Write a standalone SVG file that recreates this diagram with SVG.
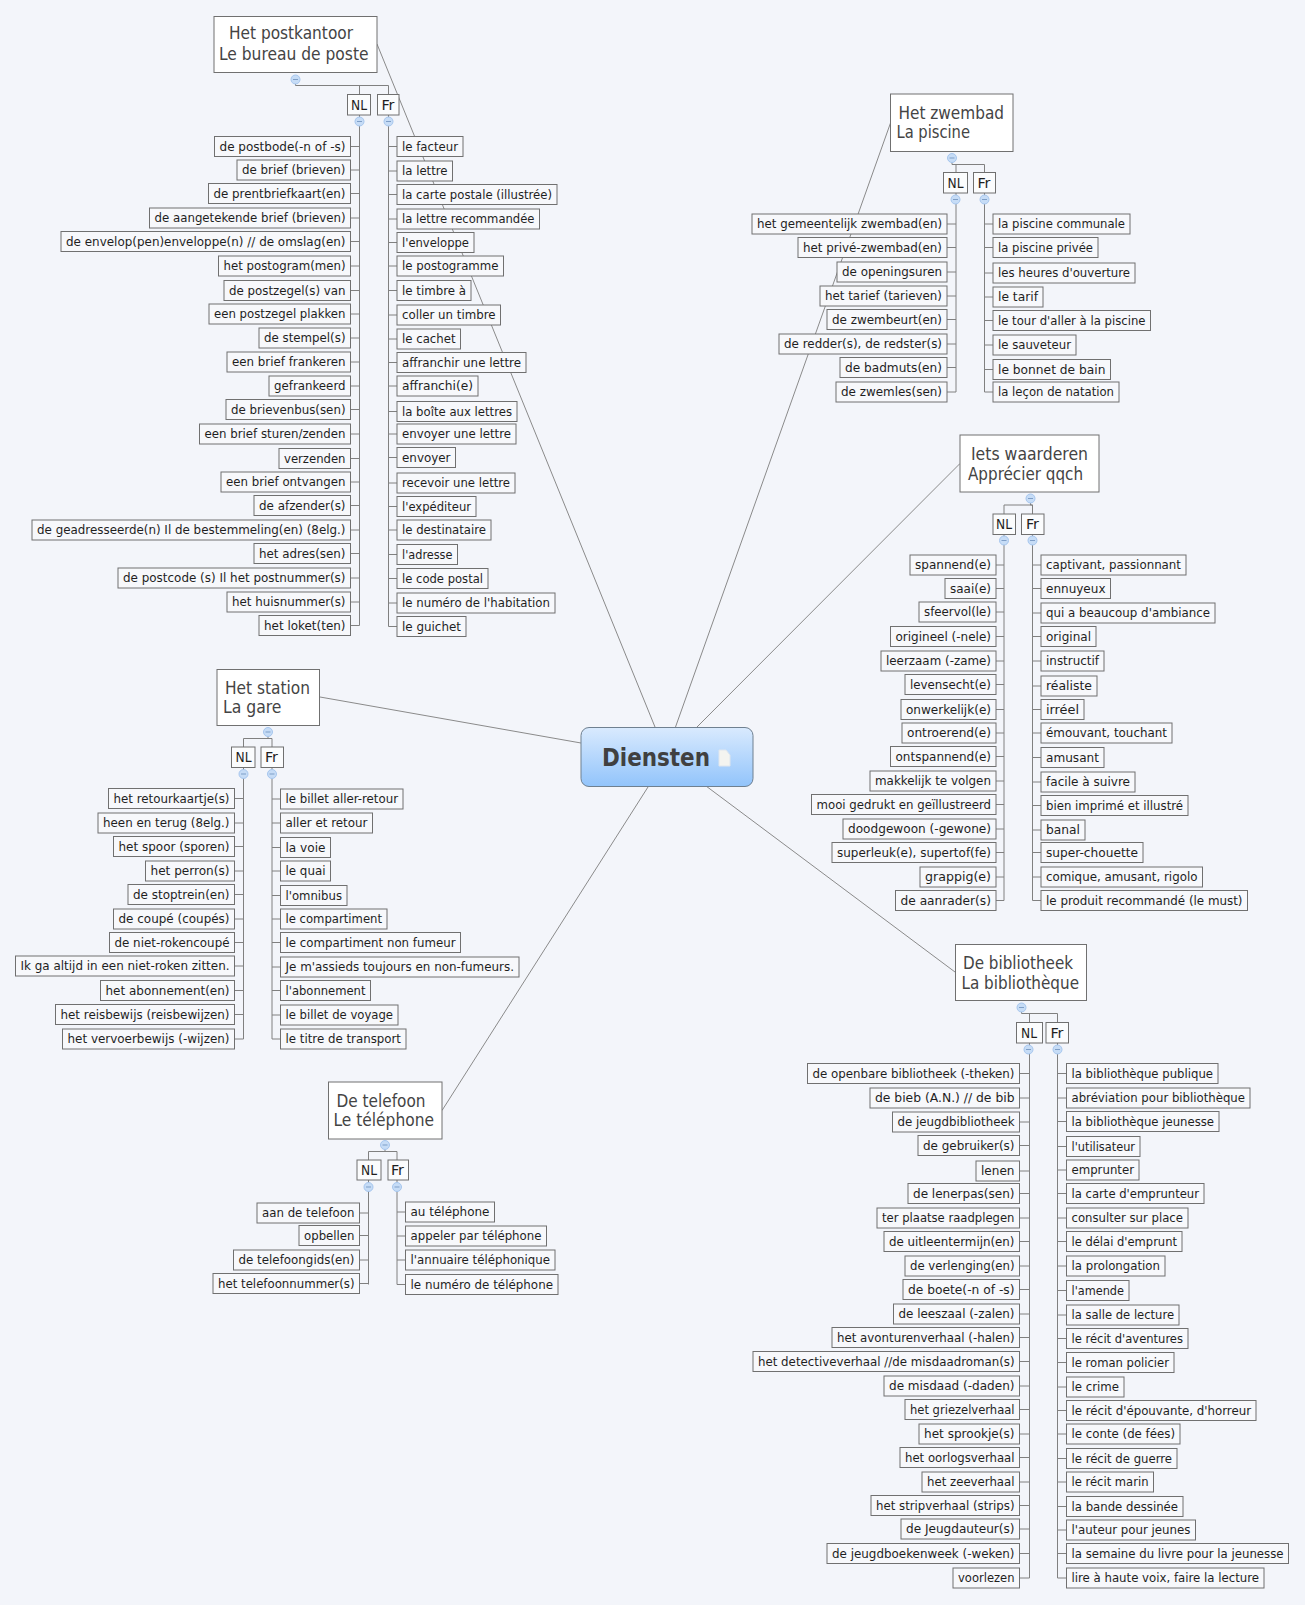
<svg xmlns="http://www.w3.org/2000/svg" width="1305" height="1605" viewBox="0 0 1305 1605">
<style>
text{font-family:"DejaVu Sans Condensed","DejaVu Sans","Liberation Sans",sans-serif;fill:#1f1f1f;font-size:13px}
.n rect{fill:#f7f8fb;stroke:#707070;stroke-width:1}
.h rect{fill:#fff;stroke:#707070;stroke-width:1}
.h text{font-size:18px;fill:#444}
.t rect{fill:#fbfcfd;stroke:#707070;stroke-width:1}
.t text{font-size:14px}
#connectors path{fill:none;stroke:#808080;stroke-width:1}
#connectors .m{stroke:#8a8a8a}
.c{fill:#c6dcf6;stroke:#a6c6ee;stroke-width:1}
.d{stroke:#7f9fc8;stroke-width:1}
</style>
<defs>
<linearGradient id="g" x1="0" y1="0" x2="0" y2="1"><stop offset="0" stop-color="#d9eafe"/><stop offset="1" stop-color="#92c4fb"/></linearGradient>
<g id="o"><circle class="c" r="4.5"/><path class="d" d="M-2.5 0H2.5"/></g>
</defs>
<rect width="1305" height="1605" fill="#f3f5fa"/>
<g id="connectors">
<path class="m" d="M377 44L655 727M890.5 123L675.5 727M960 463.5L697 727M955 972L706 786M442 1110.5L648 787M320 697L581 743"/>
<path d="M295.5 79V85.5H388.5M359.5 85.5V95M388.5 85.5V95M359.5 115V625.5M388.5 115V626.5"/>
<path d="M350.5 146.5H359.5M350.5 170H359.5M350.5 193.5H359.5M350.5 218H359.5M350.5 241.5H359.5M350.5 266H359.5M350.5 290.5H359.5M350.5 314H359.5M350.5 338H359.5M350.5 362H359.5M350.5 386H359.5M350.5 409.5H359.5M350.5 434H359.5M350.5 458.5H359.5M350.5 482H359.5M350.5 505.5H359.5M350.5 530H359.5M350.5 553.5H359.5M350.5 578H359.5M350.5 602H359.5M350.5 625.5H359.5"/>
<path d="M388.5 146.5H397M388.5 171H397M388.5 194.5H397M388.5 219H397M388.5 242.5H397M388.5 266H397M388.5 290.5H397M388.5 315H397M388.5 339H397M388.5 362.5H397M388.5 386H397M388.5 411.5H397M388.5 434H397M388.5 457.5H397M388.5 483H397M388.5 506.5H397M388.5 530H397M388.5 554.5H397M388.5 578.5H397M388.5 603H397M388.5 626.5H397"/>
<path d="M952 158V164.5H984.5M956 164.5V172.5M984.5 164.5V172.5M956 193V392M984.5 193V392"/>
<path d="M947 224H956M947 247.5H956M947 272H956M947 296H956M947 319.5H956M947 344H956M947 367.5H956M947 392H956M984.5 224H993M984.5 247.5H993M984.5 273H993M984.5 297H993M984.5 320.5H993M984.5 345H993M984.5 369.5H993M984.5 392H993"/>
<path d="M1030.5 498.5V505H1032.5M1004 505V514M1032.5 505V514M1004 534.5V900.5M1032.5 534.5V900.5M1004 505H1032.5"/>
<path d="M996 565H1004M996 588.5H1004M996 612H1004M996 636.5H1004M996 661H1004M996 684.5H1004M996 709.5H1004M996 733H1004M996 756.5H1004M996 781H1004M996 804.5H1004M996 829H1004M996 852.5H1004M996 877H1004M996 900.5H1004M1032.5 565H1041M1032.5 588.5H1041M1032.5 613H1041M1032.5 636.5H1041M1032.5 661H1041M1032.5 686H1041M1032.5 709.5H1041M1032.5 733H1041M1032.5 757.5H1041M1032.5 782H1041M1032.5 805.5H1041M1032.5 830H1041M1032.5 852.5H1041M1032.5 877H1041M1032.5 900.5H1041"/>
<path d="M1021.5 1007V1013.5H1057.5M1029.5 1013.5V1022.5M1057.5 1013.5V1022.5M1029.5 1043V1578M1057.5 1043V1578"/>
<path d="M1019.5 1073.5H1029.5M1019.5 1098H1029.5M1019.5 1122H1029.5M1019.5 1145.5H1029.5M1019.5 1171H1029.5M1019.5 1193.5H1029.5M1019.5 1218H1029.5M1019.5 1241.5H1029.5M1019.5 1266H1029.5M1019.5 1289.5H1029.5M1019.5 1314H1029.5M1019.5 1337.5H1029.5M1019.5 1361.5H1029.5M1019.5 1386H1029.5M1019.5 1409.5H1029.5M1019.5 1434H1029.5M1019.5 1457.5H1029.5M1019.5 1482H1029.5M1019.5 1505.5H1029.5M1019.5 1529H1029.5M1019.5 1553.5H1029.5M1019.5 1578H1029.5"/>
<path d="M1057.5 1073.5H1066.5M1057.5 1098H1066.5M1057.5 1121.5H1066.5M1057.5 1146.5H1066.5M1057.5 1170H1066.5M1057.5 1193.5H1066.5M1057.5 1218H1066.5M1057.5 1241.5H1066.5M1057.5 1266H1066.5M1057.5 1290.5H1066.5M1057.5 1315H1066.5M1057.5 1338.5H1066.5M1057.5 1362.5H1066.5M1057.5 1387H1066.5M1057.5 1410.5H1066.5M1057.5 1434H1066.5M1057.5 1458.5H1066.5M1057.5 1482H1066.5M1057.5 1506.5H1066.5M1057.5 1530H1066.5M1057.5 1553.5H1066.5M1057.5 1578H1066.5"/>
<path d="M268 732V738.5H272M243.5 738.5V747M272 738.5V747M243.5 738.5H272M243.5 767.5V1039M272 767.5V1039"/>
<path d="M234.5 798.5H243.5M234.5 823H243.5M234.5 846.5H243.5M234.5 871H243.5M234.5 894.5H243.5M234.5 919H243.5M234.5 942.5H243.5M234.5 966H243.5M234.5 990.5H243.5M234.5 1014.5H243.5M234.5 1039H243.5M272 799H280.5M272 823H280.5M272 847.5H280.5M272 871H280.5M272 895.5H280.5M272 919H280.5M272 942.5H280.5M272 967H280.5M272 990.5H280.5M272 1015H280.5M272 1039H280.5"/>
<path d="M385 1145V1151.5H397M368.5 1151.5V1160M397 1151.5V1160M368.5 1151.5H397M368.5 1180V1284.5M397 1180V1284.5"/>
<path d="M359.5 1213H368.5M359.5 1235.5H368.5M359.5 1260H368.5M359.5 1283.5H368.5M397 1212H405.5M397 1236H405.5M397 1260H405.5M397 1284.5H405.5"/>
</g>

<g id="center"><rect x="581" y="727.5" width="172" height="59" rx="8" fill="url(#g)" stroke="#6f8090"/>
<text x="602" y="766" style="font-size:25px;font-weight:700;fill:#404040;font-family:'DejaVu Sans',sans-serif" textLength="108" lengthAdjust="spacingAndGlyphs">Diensten</text>
<path d="M719 750h7l4 5v11h-11z" fill="#f4f4f0" stroke="#dfe6ee"/></g>

<g id="hub-post" class="h"><rect x="214" y="16.5" width="163" height="56"/><text x="229" y="39" textLength="124" lengthAdjust="spacingAndGlyphs">Het postkantoor</text><text x="219" y="60" textLength="149.5" lengthAdjust="spacingAndGlyphs">Le bureau de poste</text></g>
<g id="hub-zwembad" class="h"><rect x="890.5" y="94" width="122.5" height="57.5"/><text x="898.5" y="119" textLength="105.5" lengthAdjust="spacingAndGlyphs">Het zwembad</text><text x="896.5" y="137.5" textLength="73.5" lengthAdjust="spacingAndGlyphs">La piscine</text></g>
<g id="hub-iets" class="h"><rect x="960" y="435" width="139" height="57"/><text x="971" y="460" textLength="117" lengthAdjust="spacingAndGlyphs">Iets waarderen</text><text x="968" y="479.5" textLength="115" lengthAdjust="spacingAndGlyphs">Apprécier qqch</text></g>
<g id="hub-biblio" class="h"><rect x="955.5" y="944.5" width="131" height="56"/><text x="963" y="968.5" textLength="110" lengthAdjust="spacingAndGlyphs">De bibliotheek</text><text x="961.5" y="988.5" textLength="117.5" lengthAdjust="spacingAndGlyphs">La bibliothèque</text></g>
<g id="hub-station" class="h"><rect x="217" y="669.5" width="102.5" height="56"/><text x="225" y="693.5" textLength="85" lengthAdjust="spacingAndGlyphs">Het station</text><text x="223" y="712.5" textLength="58.5" lengthAdjust="spacingAndGlyphs">La gare</text></g>
<g id="hub-tel" class="h"><rect x="328.5" y="1082" width="113.5" height="57"/><text x="336.5" y="1106.5" textLength="89" lengthAdjust="spacingAndGlyphs">De telefoon</text><text x="333.5" y="1125.5" textLength="100.5" lengthAdjust="spacingAndGlyphs">Le téléphone</text></g>

<g id="tags" class="t">
<g id="post-nl"><rect x="347.5" y="94.5" width="23" height="20.5"/><text x="351" y="110" textLength="16" lengthAdjust="spacingAndGlyphs">NL</text></g>
<g id="post-fr"><rect x="377.5" y="94.5" width="21.5" height="20.5"/><text x="381.5" y="110" textLength="13" lengthAdjust="spacingAndGlyphs">Fr</text></g>
<g id="zw-nl"><rect x="943.5" y="172.5" width="24" height="20.5"/><text x="947.5" y="188" textLength="16" lengthAdjust="spacingAndGlyphs">NL</text></g>
<g id="zw-fr"><rect x="973.5" y="172.5" width="22" height="20.5"/><text x="977.5" y="188" textLength="13" lengthAdjust="spacingAndGlyphs">Fr</text></g>
<g id="iets-nl"><rect x="993" y="514" width="22.5" height="20.5"/><text x="996" y="529" textLength="16" lengthAdjust="spacingAndGlyphs">NL</text></g>
<g id="iets-fr"><rect x="1021.5" y="514" width="22.5" height="20.5"/><text x="1026" y="529" textLength="13" lengthAdjust="spacingAndGlyphs">Fr</text></g>
<g id="bib-nl"><rect x="1016.5" y="1022.5" width="26" height="20.5"/><text x="1021" y="1037.5" textLength="16" lengthAdjust="spacingAndGlyphs">NL</text></g>
<g id="bib-fr"><rect x="1046" y="1022.5" width="22.5" height="20.5"/><text x="1050.5" y="1037.5" textLength="13" lengthAdjust="spacingAndGlyphs">Fr</text></g>
<g id="st-nl"><rect x="231.5" y="747" width="23.5" height="20.5"/><text x="235.5" y="762" textLength="16" lengthAdjust="spacingAndGlyphs">NL</text></g>
<g id="st-fr"><rect x="261" y="747" width="22.5" height="20.5"/><text x="265" y="762" textLength="13" lengthAdjust="spacingAndGlyphs">Fr</text></g>
<g id="tel-nl"><rect x="357" y="1160" width="24" height="20"/><text x="361" y="1175" textLength="16" lengthAdjust="spacingAndGlyphs">NL</text></g>
<g id="tel-fr"><rect x="388" y="1160" width="20.5" height="20"/><text x="391" y="1175" textLength="13" lengthAdjust="spacingAndGlyphs">Fr</text></g>
</g>

<g id="toggles">
<use href="#o" x="295.5" y="79.5"/><use href="#o" x="359.5" y="121.5"/><use href="#o" x="388.5" y="121.5"/>
<use href="#o" x="952" y="158"/><use href="#o" x="955.5" y="199.5"/><use href="#o" x="984.5" y="199.5"/>
<use href="#o" x="1030.5" y="498.5"/><use href="#o" x="1004" y="540.5"/><use href="#o" x="1032.5" y="540.5"/>
<use href="#o" x="1021.5" y="1007.5"/><use href="#o" x="1028.5" y="1049.5"/><use href="#o" x="1057.5" y="1049.5"/>
<use href="#o" x="268" y="732"/><use href="#o" x="243.5" y="774"/><use href="#o" x="272" y="774"/>
<use href="#o" x="385" y="1145"/><use href="#o" x="368.5" y="1187"/><use href="#o" x="397" y="1187"/>
</g>

<g id="leaves" class="n">
<g transform="translate(214.5,136.5)"><rect width="136" height="20"/><text x="5" y="14" textLength="126" lengthAdjust="spacingAndGlyphs">de postbode(-n of -s)</text></g>
<g transform="translate(237,160)"><rect width="113.5" height="20"/><text x="5" y="14" textLength="103.5" lengthAdjust="spacingAndGlyphs">de brief (brieven)</text></g>
<g transform="translate(208.5,183.5)"><rect width="142" height="20"/><text x="5" y="14" textLength="132" lengthAdjust="spacingAndGlyphs">de prentbriefkaart(en)</text></g>
<g transform="translate(149.5,208)"><rect width="201" height="20"/><text x="5" y="14" textLength="191" lengthAdjust="spacingAndGlyphs">de aangetekende brief (brieven)</text></g>
<g transform="translate(61,231.5)"><rect width="289.5" height="20"/><text x="5" y="14" textLength="279.5" lengthAdjust="spacingAndGlyphs">de envelop(pen)enveloppe(n) // de omslag(en)</text></g>
<g transform="translate(218.5,256)"><rect width="132" height="20"/><text x="5" y="14" textLength="122" lengthAdjust="spacingAndGlyphs">het postogram(men)</text></g>
<g transform="translate(224,280.5)"><rect width="126.5" height="20"/><text x="5" y="14" textLength="116.5" lengthAdjust="spacingAndGlyphs">de postzegel(s) van</text></g>
<g transform="translate(209,304)"><rect width="141.5" height="20"/><text x="5" y="14" textLength="131.5" lengthAdjust="spacingAndGlyphs">een postzegel plakken</text></g>
<g transform="translate(259,328)"><rect width="91.5" height="20"/><text x="5" y="14" textLength="81.5" lengthAdjust="spacingAndGlyphs">de stempel(s)</text></g>
<g transform="translate(227,352)"><rect width="123.5" height="20"/><text x="5" y="14" textLength="113.5" lengthAdjust="spacingAndGlyphs">een brief frankeren</text></g>
<g transform="translate(269,376)"><rect width="81.5" height="20"/><text x="5" y="14" textLength="71.5" lengthAdjust="spacingAndGlyphs">gefrankeerd</text></g>
<g transform="translate(226,399.5)"><rect width="124.5" height="20"/><text x="5" y="14" textLength="114.5" lengthAdjust="spacingAndGlyphs">de brievenbus(sen)</text></g>
<g transform="translate(199.5,424)"><rect width="151" height="20"/><text x="5" y="14" textLength="141" lengthAdjust="spacingAndGlyphs">een brief sturen/zenden</text></g>
<g transform="translate(279,448.5)"><rect width="71.5" height="20"/><text x="5" y="14" textLength="61.5" lengthAdjust="spacingAndGlyphs">verzenden</text></g>
<g transform="translate(221,472)"><rect width="129.5" height="20"/><text x="5" y="14" textLength="119.5" lengthAdjust="spacingAndGlyphs">een brief ontvangen</text></g>
<g transform="translate(254,495.5)"><rect width="96.5" height="20"/><text x="5" y="14" textLength="86.5" lengthAdjust="spacingAndGlyphs">de afzender(s)</text></g>
<g transform="translate(32,520)"><rect width="318.5" height="20"/><text x="5" y="14" textLength="308.5" lengthAdjust="spacingAndGlyphs">de geadresseerde(n) Il de bestemmeling(en) (8elg.)</text></g>
<g transform="translate(254,543.5)"><rect width="96.5" height="20"/><text x="5" y="14" textLength="86.5" lengthAdjust="spacingAndGlyphs">het adres(sen)</text></g>
<g transform="translate(118,568)"><rect width="232.5" height="20"/><text x="5" y="14" textLength="222.5" lengthAdjust="spacingAndGlyphs">de postcode (s) Il het postnummer(s)</text></g>
<g transform="translate(227,592)"><rect width="123.5" height="20"/><text x="5" y="14" textLength="113.5" lengthAdjust="spacingAndGlyphs">het huisnummer(s)</text></g>
<g transform="translate(259,615.5)"><rect width="91.5" height="20"/><text x="5" y="14" textLength="81.5" lengthAdjust="spacingAndGlyphs">het loket(ten)</text></g>

<g transform="translate(397,136.5)"><rect width="66" height="20"/><text x="5" y="14" textLength="56" lengthAdjust="spacingAndGlyphs">le facteur</text></g>
<g transform="translate(397,161)"><rect width="55.5" height="20"/><text x="5" y="14" textLength="45.5" lengthAdjust="spacingAndGlyphs">la lettre</text></g>
<g transform="translate(397,184.5)"><rect width="160" height="20"/><text x="5" y="14" textLength="150" lengthAdjust="spacingAndGlyphs">la carte postale (illustrée)</text></g>
<g transform="translate(397,209)"><rect width="142.5" height="20"/><text x="5" y="14" textLength="132.5" lengthAdjust="spacingAndGlyphs">la lettre recommandée</text></g>
<g transform="translate(397,232.5)"><rect width="77" height="20"/><text x="5" y="14" textLength="67" lengthAdjust="spacingAndGlyphs">l'enveloppe</text></g>
<g transform="translate(397,256)"><rect width="106.5" height="20"/><text x="5" y="14" textLength="96.5" lengthAdjust="spacingAndGlyphs">le postogramme</text></g>
<g transform="translate(397,280.5)"><rect width="74" height="20"/><text x="5" y="14" textLength="64" lengthAdjust="spacingAndGlyphs">le timbre à</text></g>
<g transform="translate(397,305)"><rect width="103.5" height="20"/><text x="5" y="14" textLength="93.5" lengthAdjust="spacingAndGlyphs">coller un timbre</text></g>
<g transform="translate(397,329)"><rect width="63.5" height="20"/><text x="5" y="14" textLength="53.5" lengthAdjust="spacingAndGlyphs">le cachet</text></g>
<g transform="translate(397,352.5)"><rect width="129" height="20"/><text x="5" y="14" textLength="119" lengthAdjust="spacingAndGlyphs">affranchir une lettre</text></g>
<g transform="translate(397,376)"><rect width="81" height="20"/><text x="5" y="14" textLength="71" lengthAdjust="spacingAndGlyphs">affranchi(e)</text></g>
<g transform="translate(397,401.5)"><rect width="120" height="20"/><text x="5" y="14" textLength="110" lengthAdjust="spacingAndGlyphs">la boîte aux lettres</text></g>
<g transform="translate(397,424)"><rect width="119" height="20"/><text x="5" y="14" textLength="109" lengthAdjust="spacingAndGlyphs">envoyer une lettre</text></g>
<g transform="translate(397,447.5)"><rect width="58.5" height="20"/><text x="5" y="14" textLength="48.5" lengthAdjust="spacingAndGlyphs">envoyer</text></g>
<g transform="translate(397,473)"><rect width="118" height="20"/><text x="5" y="14" textLength="108" lengthAdjust="spacingAndGlyphs">recevoir une lettre</text></g>
<g transform="translate(397,496.5)"><rect width="79" height="20"/><text x="5" y="14" textLength="69" lengthAdjust="spacingAndGlyphs">l'expéditeur</text></g>
<g transform="translate(397,520)"><rect width="94" height="20"/><text x="5" y="14" textLength="84" lengthAdjust="spacingAndGlyphs">le destinataire</text></g>
<g transform="translate(397,544.5)"><rect width="60.5" height="20"/><text x="5" y="14" textLength="50.5" lengthAdjust="spacingAndGlyphs">l'adresse</text></g>
<g transform="translate(397,568.5)"><rect width="91" height="20"/><text x="5" y="14" textLength="81" lengthAdjust="spacingAndGlyphs">le code postal</text></g>
<g transform="translate(397,593)"><rect width="158" height="20"/><text x="5" y="14" textLength="148" lengthAdjust="spacingAndGlyphs">le numéro de l'habitation</text></g>
<g transform="translate(397,616.5)"><rect width="69" height="20"/><text x="5" y="14" textLength="59" lengthAdjust="spacingAndGlyphs">le guichet</text></g>

<g transform="translate(752,214)"><rect width="195" height="20"/><text x="5" y="14" textLength="185" lengthAdjust="spacingAndGlyphs">het gemeentelijk zwembad(en)</text></g>
<g transform="translate(798,237.5)"><rect width="149" height="20"/><text x="5" y="14" textLength="139" lengthAdjust="spacingAndGlyphs">het privé-zwembad(en)</text></g>
<g transform="translate(837,262)"><rect width="110" height="20"/><text x="5" y="14" textLength="100" lengthAdjust="spacingAndGlyphs">de openingsuren</text></g>
<g transform="translate(820,286)"><rect width="127" height="20"/><text x="5" y="14" textLength="117" lengthAdjust="spacingAndGlyphs">het tarief (tarieven)</text></g>
<g transform="translate(827,309.5)"><rect width="120" height="20"/><text x="5" y="14" textLength="110" lengthAdjust="spacingAndGlyphs">de zwembeurt(en)</text></g>
<g transform="translate(779,334)"><rect width="168" height="20"/><text x="5" y="14" textLength="158" lengthAdjust="spacingAndGlyphs">de redder(s), de redster(s)</text></g>
<g transform="translate(840,357.5)"><rect width="107" height="20"/><text x="5" y="14" textLength="97" lengthAdjust="spacingAndGlyphs">de badmuts(en)</text></g>
<g transform="translate(836,382)"><rect width="111" height="20"/><text x="5" y="14" textLength="101" lengthAdjust="spacingAndGlyphs">de zwemles(sen)</text></g>

<g transform="translate(993,214)"><rect width="137" height="20"/><text x="5" y="14" textLength="127" lengthAdjust="spacingAndGlyphs">la piscine communale</text></g>
<g transform="translate(993,237.5)"><rect width="105" height="20"/><text x="5" y="14" textLength="95" lengthAdjust="spacingAndGlyphs">la piscine privée</text></g>
<g transform="translate(993,263)"><rect width="142" height="20"/><text x="5" y="14" textLength="132" lengthAdjust="spacingAndGlyphs">les heures d'ouverture</text></g>
<g transform="translate(993,287)"><rect width="50" height="20"/><text x="5" y="14" textLength="40" lengthAdjust="spacingAndGlyphs">le tarif</text></g>
<g transform="translate(993,310.5)"><rect width="157.5" height="20"/><text x="5" y="14" textLength="147.5" lengthAdjust="spacingAndGlyphs">le tour d'aller à la piscine</text></g>
<g transform="translate(993,335)"><rect width="83" height="20"/><text x="5" y="14" textLength="73" lengthAdjust="spacingAndGlyphs">le sauveteur</text></g>
<g transform="translate(993,359.5)"><rect width="117.5" height="20"/><text x="5" y="14" textLength="107.5" lengthAdjust="spacingAndGlyphs">le bonnet de bain</text></g>
<g transform="translate(993,382)"><rect width="126" height="20"/><text x="5" y="14" textLength="116" lengthAdjust="spacingAndGlyphs">la leçon de natation</text></g>

<g transform="translate(910,555)"><rect width="86" height="20"/><text x="5" y="14" textLength="76" lengthAdjust="spacingAndGlyphs">spannend(e)</text></g>
<g transform="translate(945,578.5)"><rect width="51" height="20"/><text x="5" y="14" textLength="41" lengthAdjust="spacingAndGlyphs">saai(e)</text></g>
<g transform="translate(919,602)"><rect width="77" height="20"/><text x="5" y="14" textLength="67" lengthAdjust="spacingAndGlyphs">sfeervol(le)</text></g>
<g transform="translate(890.5,626.5)"><rect width="105.5" height="20"/><text x="5" y="14" textLength="95.5" lengthAdjust="spacingAndGlyphs">origineel (-nele)</text></g>
<g transform="translate(881,651)"><rect width="115" height="20"/><text x="5" y="14" textLength="105" lengthAdjust="spacingAndGlyphs">leerzaam (-zame)</text></g>
<g transform="translate(905,674.5)"><rect width="91" height="20"/><text x="5" y="14" textLength="81" lengthAdjust="spacingAndGlyphs">levensecht(e)</text></g>
<g transform="translate(901,699.5)"><rect width="95" height="20"/><text x="5" y="14" textLength="85" lengthAdjust="spacingAndGlyphs">onwerkelijk(e)</text></g>
<g transform="translate(902,723)"><rect width="94" height="20"/><text x="5" y="14" textLength="84" lengthAdjust="spacingAndGlyphs">ontroerend(e)</text></g>
<g transform="translate(890.5,746.5)"><rect width="105.5" height="20"/><text x="5" y="14" textLength="95.5" lengthAdjust="spacingAndGlyphs">ontspannend(e)</text></g>
<g transform="translate(870,771)"><rect width="126" height="20"/><text x="5" y="14" textLength="116" lengthAdjust="spacingAndGlyphs">makkelijk te volgen</text></g>
<g transform="translate(811.5,794.5)"><rect width="184.5" height="20"/><text x="5" y="14" textLength="174.5" lengthAdjust="spacingAndGlyphs">mooi gedrukt en geïllustreerd</text></g>
<g transform="translate(843,819)"><rect width="153" height="20"/><text x="5" y="14" textLength="143" lengthAdjust="spacingAndGlyphs">doodgewoon (-gewone)</text></g>
<g transform="translate(832,842.5)"><rect width="164" height="20"/><text x="5" y="14" textLength="154" lengthAdjust="spacingAndGlyphs">superleuk(e), supertof(fe)</text></g>
<g transform="translate(920,867)"><rect width="76" height="20"/><text x="5" y="14" textLength="66" lengthAdjust="spacingAndGlyphs">grappig(e)</text></g>
<g transform="translate(895.5,890.5)"><rect width="100.5" height="20"/><text x="5" y="14" textLength="90.5" lengthAdjust="spacingAndGlyphs">de aanrader(s)</text></g>

<g transform="translate(1041,555)"><rect width="145" height="20"/><text x="5" y="14" textLength="135" lengthAdjust="spacingAndGlyphs">captivant, passionnant</text></g>
<g transform="translate(1041,578.5)"><rect width="69.5" height="20"/><text x="5" y="14" textLength="59.5" lengthAdjust="spacingAndGlyphs">ennuyeux</text></g>
<g transform="translate(1041,603)"><rect width="174" height="20"/><text x="5" y="14" textLength="164" lengthAdjust="spacingAndGlyphs">qui a beaucoup d'ambiance</text></g>
<g transform="translate(1041,626.5)"><rect width="55" height="20"/><text x="5" y="14" textLength="45" lengthAdjust="spacingAndGlyphs">original</text></g>
<g transform="translate(1041,651)"><rect width="63" height="20"/><text x="5" y="14" textLength="53" lengthAdjust="spacingAndGlyphs">instructif</text></g>
<g transform="translate(1041,676)"><rect width="56" height="20"/><text x="5" y="14" textLength="46" lengthAdjust="spacingAndGlyphs">réaliste</text></g>
<g transform="translate(1041,699.5)"><rect width="43" height="20"/><text x="5" y="14" textLength="33" lengthAdjust="spacingAndGlyphs">irréel</text></g>
<g transform="translate(1041,723)"><rect width="131" height="20"/><text x="5" y="14" textLength="121" lengthAdjust="spacingAndGlyphs">émouvant, touchant</text></g>
<g transform="translate(1041,747.5)"><rect width="63" height="20"/><text x="5" y="14" textLength="53" lengthAdjust="spacingAndGlyphs">amusant</text></g>
<g transform="translate(1041,772)"><rect width="94" height="20"/><text x="5" y="14" textLength="84" lengthAdjust="spacingAndGlyphs">facile à suivre</text></g>
<g transform="translate(1041,795.5)"><rect width="147" height="20"/><text x="5" y="14" textLength="137" lengthAdjust="spacingAndGlyphs">bien imprimé et illustré</text></g>
<g transform="translate(1041,820)"><rect width="44" height="20"/><text x="5" y="14" textLength="34" lengthAdjust="spacingAndGlyphs">banal</text></g>
<g transform="translate(1041,842.5)"><rect width="102" height="20"/><text x="5" y="14" textLength="92" lengthAdjust="spacingAndGlyphs">super-chouette</text></g>
<g transform="translate(1041,867)"><rect width="161.5" height="20"/><text x="5" y="14" textLength="151.5" lengthAdjust="spacingAndGlyphs">comique, amusant, rigolo</text></g>
<g transform="translate(1041,890.5)"><rect width="206.5" height="20"/><text x="5" y="14" textLength="196.5" lengthAdjust="spacingAndGlyphs">le produit recommandé (le must)</text></g>

<g transform="translate(807.5,1063.5)"><rect width="212" height="20"/><text x="5" y="14" textLength="202" lengthAdjust="spacingAndGlyphs">de openbare bibliotheek (-theken)</text></g>
<g transform="translate(870,1088)"><rect width="149.5" height="20"/><text x="5" y="14" textLength="139.5" lengthAdjust="spacingAndGlyphs">de bieb (A.N.) // de bib</text></g>
<g transform="translate(892.5,1112)"><rect width="127" height="20"/><text x="5" y="14" textLength="117" lengthAdjust="spacingAndGlyphs">de jeugdbibliotheek</text></g>
<g transform="translate(918,1135.5)"><rect width="101.5" height="20"/><text x="5" y="14" textLength="91.5" lengthAdjust="spacingAndGlyphs">de gebruiker(s)</text></g>
<g transform="translate(976,1161)"><rect width="43.5" height="20"/><text x="5" y="14" textLength="33.5" lengthAdjust="spacingAndGlyphs">lenen</text></g>
<g transform="translate(908,1183.5)"><rect width="111.5" height="20"/><text x="5" y="14" textLength="101.5" lengthAdjust="spacingAndGlyphs">de lenerpas(sen)</text></g>
<g transform="translate(877,1208)"><rect width="142.5" height="20"/><text x="5" y="14" textLength="132.5" lengthAdjust="spacingAndGlyphs">ter plaatse raadplegen</text></g>
<g transform="translate(884,1231.5)"><rect width="135.5" height="20"/><text x="5" y="14" textLength="125.5" lengthAdjust="spacingAndGlyphs">de uitleentermijn(en)</text></g>
<g transform="translate(905,1256)"><rect width="114.5" height="20"/><text x="5" y="14" textLength="104.5" lengthAdjust="spacingAndGlyphs">de verlenging(en)</text></g>
<g transform="translate(903,1279.5)"><rect width="116.5" height="20"/><text x="5" y="14" textLength="106.5" lengthAdjust="spacingAndGlyphs">de boete(-n of -s)</text></g>
<g transform="translate(893.5,1304)"><rect width="126" height="20"/><text x="5" y="14" textLength="116" lengthAdjust="spacingAndGlyphs">de leeszaal (-zalen)</text></g>
<g transform="translate(832,1327.5)"><rect width="187.5" height="20"/><text x="5" y="14" textLength="177.5" lengthAdjust="spacingAndGlyphs">het avonturenverhaal (-halen)</text></g>
<g transform="translate(753,1351.5)"><rect width="266.5" height="20"/><text x="5" y="14" textLength="256.5" lengthAdjust="spacingAndGlyphs">het detectiveverhaal //de misdaadroman(s)</text></g>
<g transform="translate(884,1376)"><rect width="135.5" height="20"/><text x="5" y="14" textLength="125.5" lengthAdjust="spacingAndGlyphs">de misdaad (-daden)</text></g>
<g transform="translate(905,1399.5)"><rect width="114.5" height="20"/><text x="5" y="14" textLength="104.5" lengthAdjust="spacingAndGlyphs">het griezelverhaal</text></g>
<g transform="translate(919,1424)"><rect width="100.5" height="20"/><text x="5" y="14" textLength="90.5" lengthAdjust="spacingAndGlyphs">het sprookje(s)</text></g>
<g transform="translate(900,1447.5)"><rect width="119.5" height="20"/><text x="5" y="14" textLength="109.5" lengthAdjust="spacingAndGlyphs">het oorlogsverhaal</text></g>
<g transform="translate(922,1472)"><rect width="97.5" height="20"/><text x="5" y="14" textLength="87.5" lengthAdjust="spacingAndGlyphs">het zeeverhaal</text></g>
<g transform="translate(871,1495.5)"><rect width="148.5" height="20"/><text x="5" y="14" textLength="138.5" lengthAdjust="spacingAndGlyphs">het stripverhaal (strips)</text></g>
<g transform="translate(901,1519)"><rect width="118.5" height="20"/><text x="5" y="14" textLength="108.5" lengthAdjust="spacingAndGlyphs">de Jeugdauteur(s)</text></g>
<g transform="translate(827,1543.5)"><rect width="192.5" height="20"/><text x="5" y="14" textLength="182.5" lengthAdjust="spacingAndGlyphs">de jeugdboekenweek (-weken)</text></g>
<g transform="translate(953,1568)"><rect width="66.5" height="20"/><text x="5" y="14" textLength="56.5" lengthAdjust="spacingAndGlyphs">voorlezen</text></g>

<g transform="translate(1066.5,1063.5)"><rect width="151.5" height="20"/><text x="5" y="14" textLength="141.5" lengthAdjust="spacingAndGlyphs">la bibliothèque publique</text></g>
<g transform="translate(1066.5,1088)"><rect width="183.5" height="20"/><text x="5" y="14" textLength="173.5" lengthAdjust="spacingAndGlyphs">abréviation pour bibliothèque</text></g>
<g transform="translate(1066.5,1111.5)"><rect width="152.5" height="20"/><text x="5" y="14" textLength="142.5" lengthAdjust="spacingAndGlyphs">la bibliothèque jeunesse</text></g>
<g transform="translate(1066.5,1136.5)"><rect width="73.5" height="20"/><text x="5" y="14" textLength="63.5" lengthAdjust="spacingAndGlyphs">l'utilisateur</text></g>
<g transform="translate(1066.5,1160)"><rect width="72.5" height="20"/><text x="5" y="14" textLength="62.5" lengthAdjust="spacingAndGlyphs">emprunter</text></g>
<g transform="translate(1066.5,1183.5)"><rect width="137.5" height="20"/><text x="5" y="14" textLength="127.5" lengthAdjust="spacingAndGlyphs">la carte d'emprunteur</text></g>
<g transform="translate(1066.5,1208)"><rect width="121.5" height="20"/><text x="5" y="14" textLength="111.5" lengthAdjust="spacingAndGlyphs">consulter sur place</text></g>
<g transform="translate(1066.5,1231.5)"><rect width="115.5" height="20"/><text x="5" y="14" textLength="105.5" lengthAdjust="spacingAndGlyphs">le délai d'emprunt</text></g>
<g transform="translate(1066.5,1256)"><rect width="98.5" height="20"/><text x="5" y="14" textLength="88.5" lengthAdjust="spacingAndGlyphs">la prolongation</text></g>
<g transform="translate(1066.5,1280.5)"><rect width="62.5" height="20"/><text x="5" y="14" textLength="52.5" lengthAdjust="spacingAndGlyphs">l'amende</text></g>
<g transform="translate(1066.5,1305)"><rect width="112.5" height="20"/><text x="5" y="14" textLength="102.5" lengthAdjust="spacingAndGlyphs">la salle de lecture</text></g>
<g transform="translate(1066.5,1328.5)"><rect width="121.5" height="20"/><text x="5" y="14" textLength="111.5" lengthAdjust="spacingAndGlyphs">le récit d'aventures</text></g>
<g transform="translate(1066.5,1352.5)"><rect width="107.5" height="20"/><text x="5" y="14" textLength="97.5" lengthAdjust="spacingAndGlyphs">le roman policier</text></g>
<g transform="translate(1066.5,1377)"><rect width="57.5" height="20"/><text x="5" y="14" textLength="47.5" lengthAdjust="spacingAndGlyphs">le crime</text></g>
<g transform="translate(1066.5,1400.5)"><rect width="189.5" height="20"/><text x="5" y="14" textLength="179.5" lengthAdjust="spacingAndGlyphs">le récit d'épouvante, d'horreur</text></g>
<g transform="translate(1066.5,1424)"><rect width="113.5" height="20"/><text x="5" y="14" textLength="103.5" lengthAdjust="spacingAndGlyphs">le conte (de fées)</text></g>
<g transform="translate(1066.5,1448.5)"><rect width="110.5" height="20"/><text x="5" y="14" textLength="100.5" lengthAdjust="spacingAndGlyphs">le récit de guerre</text></g>
<g transform="translate(1066.5,1472)"><rect width="87" height="20"/><text x="5" y="14" textLength="77" lengthAdjust="spacingAndGlyphs">le récit marin</text></g>
<g transform="translate(1066.5,1496.5)"><rect width="116.5" height="20"/><text x="5" y="14" textLength="106.5" lengthAdjust="spacingAndGlyphs">la bande dessinée</text></g>
<g transform="translate(1066.5,1520)"><rect width="129" height="20"/><text x="5" y="14" textLength="119" lengthAdjust="spacingAndGlyphs">l'auteur pour jeunes</text></g>
<g transform="translate(1066.5,1543.5)"><rect width="222" height="20"/><text x="5" y="14" textLength="212" lengthAdjust="spacingAndGlyphs">la semaine du livre pour la jeunesse</text></g>
<g transform="translate(1066.5,1568)"><rect width="197.5" height="20"/><text x="5" y="14" textLength="187.5" lengthAdjust="spacingAndGlyphs">lire à haute voix, faire la lecture</text></g>

<g transform="translate(108.5,788.5)"><rect width="126" height="20"/><text x="5" y="14" textLength="116" lengthAdjust="spacingAndGlyphs">het retourkaartje(s)</text></g>
<g transform="translate(98,813)"><rect width="136.5" height="20"/><text x="5" y="14" textLength="126.5" lengthAdjust="spacingAndGlyphs">heen en terug (8elg.)</text></g>
<g transform="translate(113.5,836.5)"><rect width="121" height="20"/><text x="5" y="14" textLength="111" lengthAdjust="spacingAndGlyphs">het spoor (sporen)</text></g>
<g transform="translate(145.5,861)"><rect width="89" height="20"/><text x="5" y="14" textLength="79" lengthAdjust="spacingAndGlyphs">het perron(s)</text></g>
<g transform="translate(128,884.5)"><rect width="106.5" height="20"/><text x="5" y="14" textLength="96.5" lengthAdjust="spacingAndGlyphs">de stoptrein(en)</text></g>
<g transform="translate(113.5,909)"><rect width="121" height="20"/><text x="5" y="14" textLength="111" lengthAdjust="spacingAndGlyphs">de coupé (coupés)</text></g>
<g transform="translate(109.5,932.5)"><rect width="125" height="20"/><text x="5" y="14" textLength="115" lengthAdjust="spacingAndGlyphs">de niet-rokencoupé</text></g>
<g transform="translate(15.5,956)"><rect width="219" height="20"/><text x="5" y="14" textLength="209" lengthAdjust="spacingAndGlyphs">Ik ga altijd in een niet-roken zitten.</text></g>
<g transform="translate(100.5,980.5)"><rect width="134" height="20"/><text x="5" y="14" textLength="124" lengthAdjust="spacingAndGlyphs">het abonnement(en)</text></g>
<g transform="translate(55.5,1004.5)"><rect width="179" height="20"/><text x="5" y="14" textLength="169" lengthAdjust="spacingAndGlyphs">het reisbewijs (reisbewijzen)</text></g>
<g transform="translate(62.5,1029)"><rect width="172" height="20"/><text x="5" y="14" textLength="162" lengthAdjust="spacingAndGlyphs">het vervoerbewijs (-wijzen)</text></g>

<g transform="translate(280.5,789)"><rect width="122.5" height="20"/><text x="5" y="14" textLength="112.5" lengthAdjust="spacingAndGlyphs">le billet aller-retour</text></g>
<g transform="translate(280.5,813)"><rect width="92" height="20"/><text x="5" y="14" textLength="82" lengthAdjust="spacingAndGlyphs">aller et retour</text></g>
<g transform="translate(280.5,837.5)"><rect width="50" height="20"/><text x="5" y="14" textLength="40" lengthAdjust="spacingAndGlyphs">la voie</text></g>
<g transform="translate(280.5,861)"><rect width="50" height="20"/><text x="5" y="14" textLength="40" lengthAdjust="spacingAndGlyphs">le quai</text></g>
<g transform="translate(280.5,885.5)"><rect width="66.5" height="20"/><text x="5" y="14" textLength="56.5" lengthAdjust="spacingAndGlyphs">l'omnibus</text></g>
<g transform="translate(280.5,909)"><rect width="106.5" height="20"/><text x="5" y="14" textLength="96.5" lengthAdjust="spacingAndGlyphs">le compartiment</text></g>
<g transform="translate(280.5,932.5)"><rect width="180" height="20"/><text x="5" y="14" textLength="170" lengthAdjust="spacingAndGlyphs">le compartiment non fumeur</text></g>
<g transform="translate(280.5,957)"><rect width="238.5" height="20"/><text x="5" y="14" textLength="228.5" lengthAdjust="spacingAndGlyphs">Je m'assieds toujours en non-fumeurs.</text></g>
<g transform="translate(280.5,980.5)"><rect width="90" height="20"/><text x="5" y="14" textLength="80" lengthAdjust="spacingAndGlyphs">l'abonnement</text></g>
<g transform="translate(280.5,1005)"><rect width="117.5" height="20"/><text x="5" y="14" textLength="107.5" lengthAdjust="spacingAndGlyphs">le billet de voyage</text></g>
<g transform="translate(280.5,1029)"><rect width="125.5" height="20"/><text x="5" y="14" textLength="115.5" lengthAdjust="spacingAndGlyphs">le titre de transport</text></g>

<g transform="translate(257,1203)"><rect width="102.5" height="20"/><text x="5" y="14" textLength="92.5" lengthAdjust="spacingAndGlyphs">aan de telefoon</text></g>
<g transform="translate(299,1225.5)"><rect width="60.5" height="20"/><text x="5" y="14" textLength="50.5" lengthAdjust="spacingAndGlyphs">opbellen</text></g>
<g transform="translate(233.5,1250)"><rect width="126" height="20"/><text x="5" y="14" textLength="116" lengthAdjust="spacingAndGlyphs">de telefoongids(en)</text></g>
<g transform="translate(213,1273.5)"><rect width="146.5" height="20"/><text x="5" y="14" textLength="136.5" lengthAdjust="spacingAndGlyphs">het telefoonnummer(s)</text></g>

<g transform="translate(405.5,1202)"><rect width="89" height="20"/><text x="5" y="14" textLength="79" lengthAdjust="spacingAndGlyphs">au téléphone</text></g>
<g transform="translate(405.5,1226)"><rect width="141" height="20"/><text x="5" y="14" textLength="131" lengthAdjust="spacingAndGlyphs">appeler par téléphone</text></g>
<g transform="translate(405.5,1250)"><rect width="149.5" height="20"/><text x="5" y="14" textLength="139.5" lengthAdjust="spacingAndGlyphs">l'annuaire téléphonique</text></g>
<g transform="translate(405.5,1274.5)"><rect width="152.5" height="20"/><text x="5" y="14" textLength="142.5" lengthAdjust="spacingAndGlyphs">le numéro de téléphone</text></g>
</g>
</svg>
